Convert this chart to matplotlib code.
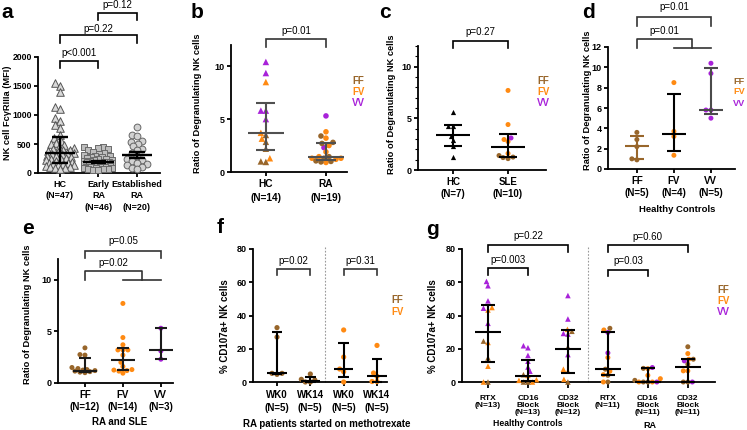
import numpy as np
import matplotlib
matplotlib.use('Agg')
import matplotlib.pyplot as plt

plt.rcParams['font.family'] = ['Liberation Sans', 'DejaVu Sans']

W, H = 747, 430
FF_C, FV_C, VV_C = '#98662B', '#FF8A12', '#A822D9'
GC = {'FF': FF_C, 'FV': FV_C, 'VV': VV_C}

# ---------------- data ----------------
# panel a
a_labels = ['HC\n(N=47)', 'Early\nRA\n(N=46)', 'Established\nRA\n(N=20)']
a_hc = [1550, 1500, 1400, 1130, 1100, 950, 900, 820, 780, 650, 600, 560, 520, 500, 480, 450,
        430, 420, 400, 390, 380, 370, 350, 340, 330, 320, 300, 290, 280, 260, 250, 240, 220,
        200, 190, 180, 170, 160, 150, 140, 130, 120, 110, 100, 90, 80, 70]
a_early = [450, 440, 430, 410, 390, 370, 350, 330, 310, 300, 290, 280, 270, 260, 250, 240, 230,
           220, 210, 200, 195, 190, 185, 180, 175, 170, 165, 160, 150, 140, 130, 125, 120, 115,
           110, 105, 100, 95, 90, 85, 80, 75, 70, 65, 60, 55]
a_est = [800, 660, 640, 560, 540, 500, 460, 420, 400, 350, 300, 250, 220, 200, 180, 150, 130,
         100, 90, 70]
a_med = [350, 190, 310]
a_lo = [170, 165, 265]
a_hi = [620, 215, 360]

# panel b
b_labels = ['HC\n(N=14)', 'RA\n(N=19)']
b_hc_vals = [10.4, 9.35, 5.8, 5.8, 5.0, 8.5, 3.7, 3.15, 1.3, 3.5, 2.85, 2.2, 0.95, 1.0]
b_hc_geno = ['VV', 'VV', 'VV', 'VV', 'VV', 'FV', 'FV', 'FV', 'FV', 'FF', 'FF', 'FF', 'FF', 'FF']
b_ra_vals = [5.3, 2.3, 3.8, 3.2, 2.5, 1.9, 1.45, 1.3, 1.3, 1.2, 0.9,
             3.4, 2.8, 2.7, 1.45, 1.3, 1.05, 1.0, 0.95]
b_ra_geno = ['VV'] * 2 + ['FV'] * 9 + ['FF'] * 8
b_med = [3.65, 1.45]
b_lo = [2.05, 1.1]
b_hi = [6.5, 2.75]

# panel c
c_labels = ['HC\n(N=7)', 'SLE\n(N=10)']
c_hc_vals = [5.6, 4.3, 4.25, 3.3, 2.9, 2.3, 1.3]
c_sle_vals = [7.7, 4.4, 2.95, 2.75, 1.6, 3.1, 1.4, 1.25, 1.2, 1.1]
c_sle_geno = ['FV'] * 5 + ['VV'] + ['FF'] * 4
c_med = [3.4, 2.2]
c_lo = [2.3, 1.25]
c_hi = [4.35, 3.5]

# panel d
d_labels = ['FF\n(N=5)', 'FV\n(N=4)', 'VV\n(N=5)']
d_ff = [3.6, 2.9, 2.2, 1.0, 0.9]
d_fv = [8.5, 3.7, 3.2, 1.35]
d_vv = [10.4, 9.4, 5.8, 5.8, 5.0]
d_med = [2.3, 3.45, 5.85]
d_lo = [0.95, 1.8, 5.4]
d_hi = [3.2, 7.35, 9.9]

# panel e
e_labels = ['FF\n(N=12)', 'FV\n(N=14)', 'VV\n(N=3)']
e_ff = [3.4, 2.75, 2.7, 1.5, 1.4, 1.3, 1.25, 1.2, 1.15, 1.1, 1.05, 1.0]
e_fv = [7.7, 4.4, 3.7, 3.2, 3.2, 3.2, 2.7, 2.0, 1.6, 1.3, 1.25, 1.2, 1.15, 0.95]
e_vv = [5.3, 3.1, 2.3]
e_med = [1.2, 2.2, 3.15]
e_lo = [1.1, 1.3, 2.3]
e_hi = [2.4, 3.35, 5.3]

# panel f
f_labels = ['WK0\n(N=5)', 'WK14\n(N=5)', 'WK0\n(N=5)', 'WK14\n(N=5)']
f_ff_wk0 = [32.7, 27, 5.2, 5.2, 4.6]
f_ff_wk14 = [4.8, 1.6, 1.2, 0, 0]
f_fv_wk0 = [31.3, 15, 7.8, 6.2, 0]
f_fv_wk14 = [22, 5.4, 3.4, 0.3, 0.3]
f_med = [5.2, 0.5, 7.8, 3.5]
f_lo = [4.8, 0, 3.2, 0]
f_hi = [30, 3, 23.3, 13.8]

# panel g
g_labels = ['RTX\n(N=13)', 'CD16\nBlock\n(N=13)', 'CD32\nBlock\n(N=12)',
            'RTX\n(N=11)', 'CD16\nBlock\n(N=11)', 'CD32\nBlock\n(N=11)']
g_hc_rtx = [60.5, 57.9, 48.8, 44.4, 35.3, 44.8, 43.3, 23.8, 9.5, 0, 24.6, 14.5, 0]
g_hc_rtx_geno = ['VV'] * 5 + ['FV'] * 5 + ['FF'] * 3
g_hc_cd16 = [21.8, 20.6, 16, 12.5, 9, 6.5, 4, 1.4, 1, 0, 4.4, 0, 0]
g_hc_cd16_geno = ['VV'] * 6 + ['FV'] * 4 + ['FF'] * 3
g_hc_cd32 = [52, 37.9, 29.2, 28.8, 16.5, 31.7, 7.7, 6.5, 1.6, 30.5, 21, 0]
g_hc_cd32_geno = ['VV'] * 5 + ['FV'] * 4 + ['FF'] * 3
g_ra_rtx = [32.3, 7.7, 4, 0, 31.3, 14.7, 6.5, 4.4, 0, 29.8, 17.5]
g_ra_rtx_geno = ['FF'] * 4 + ['FV'] * 5 + ['VV'] * 2
g_ra_cd16 = [8.2, 1.0, 0, 0, 8.0, 4.0, 2.0, 0, 0, 8.7, 0]
g_ra_cd16_geno = ['FF'] * 4 + ['FV'] * 5 + ['VV'] * 2
g_ra_cd32 = [21.2, 13.7, 10.7, 0, 0, 17.1, 13.7, 6.7, 6.7, 12.7, 0]
g_ra_cd32_geno = ['FF'] * 5 + ['FV'] * 4 + ['VV'] * 2
g_med = [30, 3.8, 19.8, 7.8, 0.2, 9.0]
g_lo = [12, 0.5, 5.5, 4.3, 0, 0]
g_hi = [46.5, 13, 31, 30, 8.5, 14]

# ---------------- helpers ----------------
fig = plt.figure(figsize=(W / 100, H / 100), dpi=100)


def add_ax(x0, x1, ytop, ybot):
    return fig.add_axes([x0 / W, 1 - ybot / H, (x1 - x0) / W, (ybot - ytop) / H])


def ftext(x, y, s, **kw):
    fig.text(x / W, 1 - y / H, s, **kw)


def style(ax, xlim, ylim, yticks, xlabels, fs=7, pad=2, ls=1.3, xtl=3, yfs=6.5):
    ax.set_xlim(*xlim)
    ax.set_ylim(*ylim)
    for s in ['top', 'right']:
        ax.spines[s].set_visible(False)
    for s in ['left', 'bottom']:
        ax.spines[s].set_linewidth(1.3)
    ax.set_yticks(yticks, [('%g' % v) for v in yticks], fontweight='bold', fontsize=yfs)
    ax.set_xticks(range(len(xlabels)), xlabels, fontweight='bold', fontsize=fs,
                  linespacing=ls)
    ax.tick_params(axis='y', width=1.3, length=3, pad=1.5)
    ax.tick_params(axis='x', width=1.3, length=xtl, pad=pad)
    ax.patch.set_alpha(0)


def swarm(ax, pos, vals, dmin, lim, step=1.0):
    tr = ax.transData
    ppx = tr.transform((1, 0))[0] - tr.transform((0, 0))[0]
    vals = np.asarray(vals, float)
    ys = tr.transform(np.column_stack([np.full(len(vals), pos), vals]))[:, 1]
    cands = np.arange(-lim, lim + 1e-9, step)
    cands = cands[np.argsort(np.abs(cands) + 1e-6 * cands, kind='stable')]
    placed = []
    offs = np.zeros(len(vals))
    for i in np.argsort(vals):
        best, bestd = 0.0, -1
        for c in cands:
            d = min((np.hypot(c - px, ys[i] - py) for px, py in placed), default=np.inf)
            if d >= dmin:
                best = c
                break
            if d > bestd:
                bestd, best = d, c
        placed.append((best, ys[i]))
        offs[i] = best
    return pos + offs / ppx


def errbar(ax, pos, med, lo, hi, mw, cw, color='black', lw=1.5):
    kw = dict(color=color, lw=lw, zorder=5, clip_on=False, solid_capstyle='butt')
    ax.plot([pos, pos], [lo, hi], **kw)
    ax.plot([pos - mw, pos + mw], [med, med], **kw)
    ax.plot([pos - cw, pos + cw], [hi, hi], **kw)
    ax.plot([pos - cw, pos + cw], [lo, lo], **kw)


def bracket(ax, x1, x2, y, leg, text, ty, color='black', fs=7, lw=1.2):
    ax.plot([x1, x1, x2, x2], [y - leg, y, y, y - leg], color=color, lw=lw, clip_on=False,
            solid_joinstyle='miter')
    ax.text((x1 + x2) / 2, ty, text, ha='center', va='center', fontsize=fs)


def bracket3(ax, y, leg, text, ty, color='black', fs=7, lw=1.2):
    ax.plot([0, 0, 1.5, 1.5], [y - leg, y, y, y - leg], color=color, lw=lw, clip_on=False)
    ax.plot([1, 2], [y - leg, y - leg], color=color, lw=lw, clip_on=False)
    ax.text(0.75, ty, text, ha='center', va='center', fontsize=fs)


def colored(ax, pos, vals, geno, marker, s, dmin, lim, step=1.0):
    xs = swarm(ax, pos, vals, dmin, lim, step)
    ax.scatter(xs, vals, c=[GC[g] for g in geno], marker=marker, s=s, linewidths=0,
               zorder=3, clip_on=False)


def legend(x, y0, dy, keys, fs=7):
    for i, k in enumerate(keys):
        ftext(x, y0 + i * dy, k, color=GC[k], fontsize=fs, fontweight='bold',
              ha='left', va='center')


def panel_letter(x, y, s):
    ftext(x, y, s, fontsize=15, fontweight='bold', ha='left', va='center')


def ylab(x, y, s, fs=6.7):
    ftext(x, y, s, rotation=90, fontsize=fs, fontweight='bold', ha='center', va='center')


# ---------------- panel a ----------------
ax = add_ax(38, 160, 57, 173)
style(ax, (-0.57, 2.6), (0, 2000), [0, 500, 1000, 1500, 2000], a_labels, fs=6.5, ls=1.35,
      yfs=6.2)
for pos, vals, m, fc, ec, s in [(0, a_hc, '^', '#d9d9d9', '#555555', 30),
                                (1, a_early, 's', '#bdbdbd', '#6a6a6a', 22),
                                (2, a_est, 'o', '#d2d2d2', '#666666', 24)]:
    xs = swarm(ax, pos, vals, 5.0, 14)
    ax.scatter(xs, vals, marker=m, s=s, facecolor=fc, edgecolor=ec, linewidths=0.7,
               zorder=3, clip_on=False)
for i in range(3):
    errbar(ax, i, a_med[i], a_lo[i], a_hi[i], 0.4, 0.2, lw=1.7)
bracket(ax, 0, 1, 1930, 120, 'p<0.001', 2070)
bracket(ax, 0, 2, 2380, 140, 'p=0.22', 2490)
bracket(ax, 1, 2, 2760, 120, 'p=0.12', 2900)
panel_letter(1, 12, 'a')
ylab(8, 113, 'NK cell FcγRIIIa (MFI)', fs=6.7)

# ---------------- panel b ----------------
ax = add_ax(231, 347, 45, 172)
style(ax, (-0.58, 1.35), (0, 12), [0, 5, 10], b_labels, fs=7.3, ls=1.5)
colored(ax, 0, b_hc_vals, b_hc_geno, '^', 22, 5.0, 10)
colored(ax, 1, b_ra_vals, b_ra_geno, 'o', 16, 4.6, 18)
for i in range(2):
    errbar(ax, i, b_med[i], b_lo[i], b_hi[i], 0.3, 0.16, color='#505050')
bracket(ax, 0, 1, 12.55, 0.75, 'p=0.01', 13.3, color='#333333')
legend(352, 81, 11, ['FF', 'FV', 'VV'])
panel_letter(191, 12, 'b')
ylab(197, 103, 'Ratio of Degranulating NK cells')

# ---------------- panel c ----------------
ax = add_ax(418, 546, 46, 170)
style(ax, (-0.636, 1.69), (0, 12), [0, 5, 10], c_labels, fs=7, ls=1.3)
ax.set_yticks(np.arange(0, 13, 1), minor=True)
ax.tick_params(axis='y', which='minor', width=0.8, length=2)
xs = swarm(ax, 0, c_hc_vals, 4.5, 8)
ax.scatter(xs, c_hc_vals, marker='^', s=14, c='black', linewidths=0, zorder=3, clip_on=False)
colored(ax, 1, c_sle_vals, c_sle_geno, 'o', 13, 4.4, 14)
for i in range(2):
    errbar(ax, i, c_med[i], c_lo[i], c_hi[i], 0.31, 0.16)
bracket(ax, 0, 1, 12.5, 0.7, 'p=0.27', 13.4)
legend(537, 81, 11, ['FF', 'FV', 'VV'])
panel_letter(379, 13, 'c')
ylab(392, 104, 'Ratio of Degranulating NK cells')

# ---------------- panel d ----------------
ax = add_ax(608, 735, 47, 169)
style(ax, (-0.78, 2.65), (0, 12), [0, 2, 4, 6, 8, 10, 12], d_labels, fs=7, ls=1.2)
for i, (vals, k) in enumerate([(d_ff, 'FF'), (d_fv, 'FV'), (d_vv, 'VV')]):
    colored(ax, i, vals, [k] * len(vals), 'o', 13, 4.6, 10)
for i, col in enumerate([FF_C, 'black', '#4a4a4a']):
    errbar(ax, i, d_med[i], d_lo[i], d_hi[i], 0.33, 0.18, color=col)
bracket(ax, 0, 2, 14.95, 0.9, 'p=0.01', 15.9, color='#333333')
bracket3(ax, 12.78, 0.85, 'p=0.01', 13.55, color='#333333')
legend(733, 81, 11, ['FF', 'FV', 'VV'], fs=6.6)
panel_letter(582, 12, 'd')
ylab(587, 100, 'Ratio of Degranulating NK cells')
ftext(677, 210, 'Healthy Controls', fontsize=6.8, fontweight='bold', ha='center', va='center')

# ---------------- panel e ----------------
ax = add_ax(58, 173, 259, 383)
style(ax, (-0.71, 2.32), (0, 12), [0, 5, 10], e_labels, fs=7, ls=1.2)
for i, (vals, k) in enumerate([(e_ff, 'FF'), (e_fv, 'FV'), (e_vv, 'VV')]):
    colored(ax, i, vals, [k] * len(vals), 'o', 13, 4.4, 13)
for i in range(3):
    errbar(ax, i, e_med[i], e_lo[i], e_hi[i], 0.31, 0.15, color='#1a1a1a')
bracket(ax, 0, 2, 12.8, 0.7, 'p=0.05', 13.7, color='#333333')
bracket3(ax, 10.8, 0.85, 'p=0.02', 11.6, color='#333333')
panel_letter(22, 229, 'e')
ylab(28, 314, 'Ratio of Degranulating NK cells')
ftext(120, 422, 'RA and SLE', fontsize=7, fontweight='bold', ha='center', va='center')

# ---------------- panel f ----------------
ax = add_ax(253, 387, 249, 382)
style(ax, (-0.72, 3.3), (0, 80), [0, 20, 40, 60, 80], f_labels, fs=7, ls=1.3, pad=3)
for i, (vals, k) in enumerate([(f_ff_wk0, 'FF'), (f_ff_wk14, 'FF'),
                               (f_fv_wk0, 'FV'), (f_fv_wk14, 'FV')]):
    colored(ax, i, vals, [k] * len(vals), 'o', 14, 4.8, 13, step=0.5)
for i in range(4):
    errbar(ax, i, f_med[i], f_lo[i], f_hi[i], 0.29, 0.16)
ax.plot([1.45, 1.45], [0, 82], ls=(0, (1.5, 1.5)), color='#999999', lw=0.8, clip_on=False)
bracket(ax, 0, 1, 68, 3.6, 'p=0.02', 72.5, color='#333333')
bracket(ax, 2, 3, 68, 3.6, 'p=0.31', 72.5, color='#333333')
legend(391, 300, 12, ['FF', 'FV'])
panel_letter(217, 228, 'f')
ylab(225, 326, '% CD107a+ NK cells', fs=7)
ftext(327, 424, 'RA patients started on methotrexate', fontsize=7, fontweight='bold',
      ha='center', va='center')

# ---------------- panel g ----------------
ax = add_ax(462, 715, 249, 382)
style(ax, (-0.65, 5.68), (0, 80), [0, 20, 40, 60, 80], g_labels, fs=6, ls=1.05, pad=5,
      xtl=4)
for i, (vals, geno, m) in enumerate([(g_hc_rtx, g_hc_rtx_geno, '^'),
                                     (g_hc_cd16, g_hc_cd16_geno, '^'),
                                     (g_hc_cd32, g_hc_cd32_geno, '^'),
                                     (g_ra_rtx, g_ra_rtx_geno, 'o'),
                                     (g_ra_cd16, g_ra_cd16_geno, 'o'),
                                     (g_ra_cd32, g_ra_cd32_geno, 'o')]):
    colored(ax, i, vals, geno, m, 16 if m == '^' else 13, 4.5, 13, step=0.5)
for i in range(6):
    errbar(ax, i, g_med[i], g_lo[i], g_hi[i], 0.33, 0.17)
ax.plot([2.5, 2.5], [0, 82], ls=(0, (1.5, 1.5)), color='#999999', lw=0.8, clip_on=False)
bracket(ax, 0, 2, 82.4, 4.2, 'p=0.22', 87.6)
bracket(ax, 0, 1, 68.6, 4.4, 'p=0.003', 73.4)
bracket(ax, 3, 5, 82.4, 4.2, 'p=0.60', 87.4)
bracket(ax, 3, 4, 67.6, 4.0, 'p=0.03', 72.8)
legend(717, 290, 11, ['FF', 'FV', 'VV'])
panel_letter(426, 230, 'g')
ylab(433, 326, '% CD107a+ NK cells', fs=7)
ftext(528, 424, 'Healthy Controls', fontsize=6.2, fontweight='bold', ha='center', va='center')
ftext(650, 425, 'RA', fontsize=6.5, fontweight='bold', ha='center', va='center')

fig.savefig('out.png', dpi=100)
